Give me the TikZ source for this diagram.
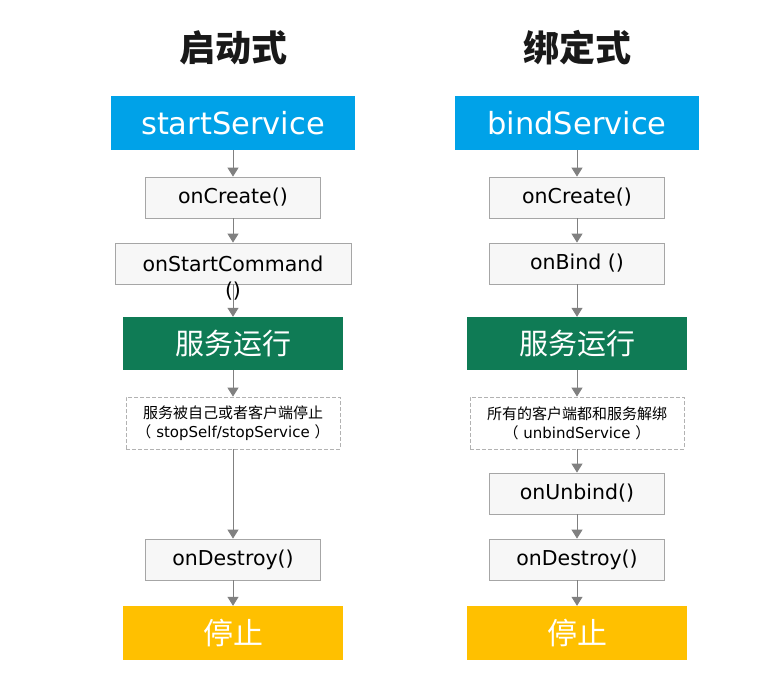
\documentclass[tikz,border=0pt]{standalone}
\usepackage{fontspec}
\setmainfont{DejaVu Sans}
\newfontfamily\cjk{Noto Sans CJK SC}
\usetikzlibrary{arrows.meta}
\definecolor{svcblue}{HTML}{00A2E8}
\definecolor{rungreen}{HTML}{0F7B55}
\definecolor{stopgold}{HTML}{FFC000}
\definecolor{stepgray}{HTML}{A6A6A6}
\begin{document}
\begin{tikzpicture}[x=1pt,y=-1pt,
  flow/.style={draw=black!50,line width=1pt,-{Triangle[width=11pt,length=9pt]}},
  head/.style={font=\cjk\bfseries\fontsize{36}{40}\selectfont,text=black!90},
  svcbox/.style={fill=svcblue,minimum width=244pt,minimum height=54pt,inner sep=0pt,text=white,font=\fontsize{30.5}{32}\selectfont},
  callbox/.style={draw=stepgray,line width=0.8pt,fill=black!3,minimum width=175pt,minimum height=41pt,inner sep=0pt,font=\fontsize{20.5}{24}\selectfont},
  runbox/.style={fill=rungreen,minimum width=220pt,minimum height=53pt,inner sep=0pt,text=white,font=\cjk\fontsize{29}{32}\selectfont},
  endbox/.style={fill=stopgold,minimum width=220pt,minimum height=54pt,inner sep=0pt,text=white,font=\cjk\fontsize{30}{32}\selectfont},
  notebox/.style={draw=black!30,line width=0.8pt,dash pattern=on 4pt off 2pt,fill=white,minimum width=214pt,minimum height=52pt,inner sep=0pt,align=center,font=\fontsize{15}{19}\selectfont},
]
\useasboundingbox (0,0) rectangle (768,694);
% start column
\node[head] (titleL) at (233,48) {启动式};
\node[svcbox] (startS) at (233,123) {startService};
\node[callbox] (createL) at (233,197.5) {onCreate()};
\node[callbox,minimum width=236pt] (startCmd) at (233,263.5) {onStartCommand};
\node[font=\fontsize{20.5}{24}\selectfont,inner sep=0pt] (startCmdP) at (233,291) {()};
\node[runbox] (runL) at (233,343.5) {服务运行};
\node[notebox] (noteL) at (233,423) {{\cjk 服务被自己或者客户端停止}\\{\cjk （} stopSelf/stopService {\cjk ）}};
\node[callbox] (destroyL) at (233,559.5) {onDestroy()};
\node[endbox] (endL) at (233,633) {停止};
% bind column
\node[head] (titleR) at (577,48) {绑定式};
\node[svcbox] (bindS) at (577,123) {bindService};
\node[callbox] (createR) at (577,197.5) {onCreate()};
\node[callbox] (bindR) at (577,263.5) {onBind ()};
\node[runbox] (runR) at (577,343.5) {服务运行};
\node[notebox] (noteR) at (577,423) {{\cjk 所有的客户端都和服务解绑}\\{\cjk （} unbindService {\cjk ）}};
\node[callbox] (unbindR) at (577,493.5) {onUnbind()};
\node[callbox] (destroyR) at (577,559.5) {onDestroy()};
\node[endbox] (endR) at (577,633) {停止};
\foreach \a/\b in {startS/createL,createL/startCmd,startCmd/runL,runL/noteL,noteL/destroyL,destroyL/endL,
  bindS/createR,createR/bindR,bindR/runR,runR/noteR,noteR/unbindR,unbindR/destroyR,destroyR/endR}
  \draw[flow] (\a) -- (\b);
\end{tikzpicture}
\end{document}
